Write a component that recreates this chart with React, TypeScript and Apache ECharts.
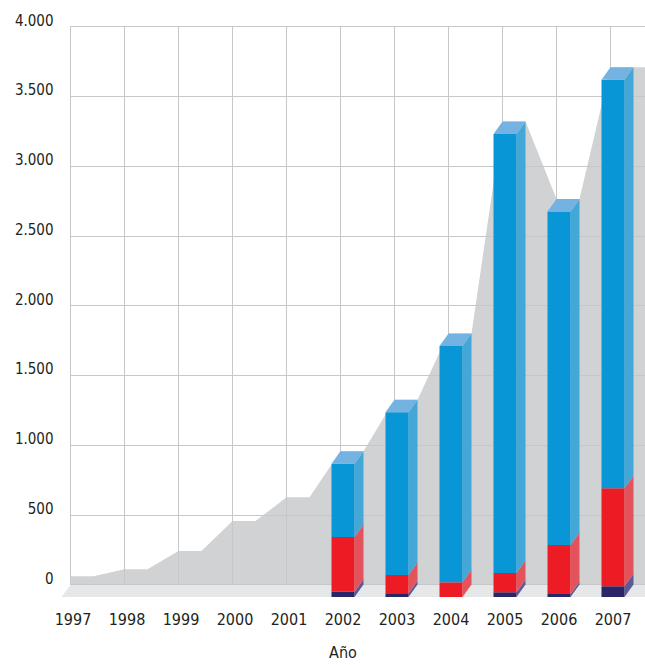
import React, { useEffect, useRef } from "react";
import * as echarts from "echarts";

// Years on the horizontal axis
const years = ["1997", "1998", "1999", "2000", "2001", "2002", "2003", "2004", "2005", "2006", "2007"];

// Totals for the years without a breakdown (1997–2001)
const earlyTotals = [60, 110, 240, 455, 625];

// Breakdown for 2002–2007, stacked bottom to top
const barYears = ["2002", "2003", "2004", "2005", "2006", "2007"];
const navySeg = [38, 27, 0, 34, 22, 77];
const redSeg = [392, 131, 105, 138, 351, 703];
const blueSeg = [525, 1167, 1695, 3148, 2392, 2930];

// Value axis ticks
const yMax = 4000;
const yStep = 500;

// Pseudo-3D geometry
const DX = 9; // depth offset to the right
const DY = 12.5; // depth offset upwards
const BAR_W = 23;
const BAND = 54;
const FLAT = BAR_W / BAND; // share of a band covered by a bar top

const FONT = "'DejaVu Sans Condensed', 'Liberation Sans Narrow', 'Liberation Sans', sans-serif";
const TEXT = "#231f20";
const GRID_LINE = "#c6c7c9";

const fmt = (v: number) => String(v).replace(/\B(?=(\d{3})+(?!\d))/g, ".");

export default function App() {
  const ref = useRef<HTMLDivElement>(null);

  useEffect(() => {
    if (!ref.current) return;
    const chart = echarts.init(ref.current, undefined, { renderer: "svg" });

    const totals = years.map((y, i) => {
      if (i < earlyTotals.length) return earlyTotals[i];
      const j = barYears.indexOf(y);
      return navySeg[j] + redSeg[j] + blueSeg[j];
    });

    // Silhouette behind the bars: flat over each bar's back edge, sloping between bars
    const silhouette: number[][] = [];
    totals.forEach((t, i) => {
      silhouette.push([i, t], [i + FLAT, t]);
    });
    silhouette.push([years.length, totals[totals.length - 1]]);

    // stacked segments as [categoryIndex, from, to]
    const segData = (vals: number[], below: number[][]) =>
      vals.map((v, j) => {
        const base = below.reduce((s, arr) => s + arr[j], 0);
        return [years.indexOf(barYears[j]), base, base + v];
      });

    const navyData = segData(navySeg, []);
    const redData = segData(redSeg, [navySeg]);
    const blueData = segData(blueSeg, [navySeg, redSeg]);

    const cube = (front: string, side: string, top: string | null) =>
      (params: any, api: any) => {
        const lo = api.value(1);
        const hi = api.value(2);
        if (hi - lo <= 0) return null;
        const pLo = api.coord([api.value(0), lo]);
        const pHi = api.coord([api.value(0), hi]);
        const L = pLo[0] - BAR_W / 2;
        const R = pLo[0] + BAR_W / 2;
        const yb = pLo[1];
        const yt = pHi[1];
        const children: any[] = [
          {
            type: "polygon",
            shape: { points: [[R, yb], [R + DX, yb - DY], [R + DX, yt - DY], [R, yt]] },
            style: { fill: side },
          },
          {
            type: "rect",
            shape: { x: L, y: yt, width: BAR_W, height: yb - yt },
            style: { fill: front },
          },
        ];
        if (top) {
          children.push({
            type: "polygon",
            shape: { points: [[L, yt], [R, yt], [R + DX, yt - DY], [L + DX, yt - DY]] },
            style: { fill: top },
          });
        }
        return { type: "group", children };
      };

    const gridTop = 26.7;
    const gridH = 557.8;

    chart.setOption({
      animation: false,
      backgroundColor: "#ffffff",
      textStyle: { fontFamily: FONT },
      grid: [
        // back wall
        {
          left: 70.5,
          top: gridTop,
          width: BAND * years.length,
          height: gridH,
          outerBoundsMode: "none",
          containLabel: false,
        },
        // front plane (bars and year labels)
        {
          left: 70.5 - DX - (BAND - BAR_W) / 2,
          top: gridTop + DY,
          width: BAND * years.length,
          height: gridH,
          outerBoundsMode: "none",
          containLabel: false,
        },
      ],
      xAxis: [
        {
          gridIndex: 0,
          type: "value",
          min: 0,
          max: years.length,
          interval: 1,
          z: 2,
          axisLine: { show: true, lineStyle: { color: GRID_LINE, width: 1 } },
          axisTick: { show: false },
          axisLabel: { show: false },
          splitLine: { show: true, lineStyle: { color: GRID_LINE, width: 1 } },
        },
        {
          gridIndex: 1,
          type: "category",
          data: years,
          boundaryGap: true,
          axisLine: { show: false },
          axisTick: { show: false },
          splitLine: { show: false },
          axisLabel: { color: TEXT, fontSize: 16, margin: 14, interval: 0, fontFamily: FONT },
          name: "Año",
          nameLocation: "middle",
          nameGap: 47,
          nameTextStyle: { color: TEXT, fontSize: 16, fontFamily: FONT },
        },
      ],
      yAxis: [
        {
          gridIndex: 0,
          type: "value",
          min: 0,
          max: yMax,
          interval: yStep,
          z: 2,
          axisLine: { show: true, lineStyle: { color: GRID_LINE, width: 1 } },
          axisTick: { show: false },
          axisLabel: {
            color: TEXT,
            fontSize: 15,
            margin: 17,
            fontFamily: FONT,
            verticalAlign: "bottom",
            lineHeight: 12,
            formatter: (v: number) => fmt(v),
          },
          splitLine: { show: true, lineStyle: { color: GRID_LINE, width: 1 } },
        },
        {
          gridIndex: 1,
          type: "value",
          min: 0,
          max: yMax,
          interval: yStep,
          show: false,
        },
      ],
      series: [
        {
          type: "line",
          xAxisIndex: 0,
          yAxisIndex: 0,
          data: silhouette,
          symbol: "none",
          z: 1,
          lineStyle: { width: 0 },
          areaStyle: { color: "#d1d2d4", opacity: 1 },
          silent: true,
        },
        {
          // floor strip between back wall and front plane
          type: "custom",
          xAxisIndex: 0,
          yAxisIndex: 0,
          z: 3,
          silent: true,
          data: [[0, 0]],
          renderItem: (params: any, api: any) => {
            const a = api.coord([0, 0]);
            const b = api.coord([years.length, 0]);
            return {
              type: "polygon",
              shape: { points: [[a[0], a[1] + 0.5], [b[0], a[1] + 0.5], [b[0] - DX, a[1] + DY], [a[0] - DX, a[1] + DY]] },
              style: { fill: "#e6e7e8" },
            };
          },
        },
        {
          type: "custom",
          xAxisIndex: 1,
          yAxisIndex: 1,
          z: 4,
          data: navyData,
          encode: { x: 0, y: [1, 2] },
          renderItem: cube("#2a2568", "#5b5a94", null),
        },
        {
          type: "custom",
          xAxisIndex: 1,
          yAxisIndex: 1,
          z: 4,
          data: redData,
          encode: { x: 0, y: [1, 2] },
          renderItem: cube("#ed1c24", "#e3535b", null),
        },
        {
          type: "custom",
          xAxisIndex: 1,
          yAxisIndex: 1,
          z: 4,
          data: blueData,
          encode: { x: 0, y: [1, 2] },
          renderItem: cube("#0896d7", "#43a7d8", "#74b3e1"),
        },
      ],
    });

    return () => chart.dispose();
  }, []);

  return (
    <div
      ref={ref}
      style={{ position: "fixed", left: 0, top: 0, width: 645, height: 665 }}
    />
  );
}
